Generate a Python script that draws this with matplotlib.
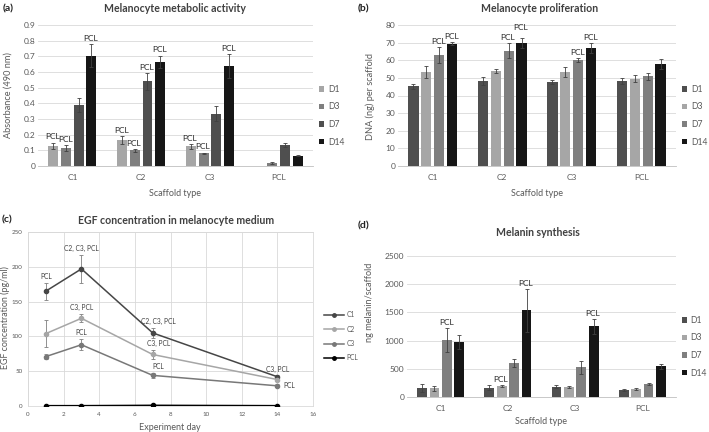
import numpy as np
import matplotlib
matplotlib.use("Agg")
from matplotlib import pyplot as plt
from matplotlib.lines import Line2D

plt.rcParams["font.family"] = ["Lato", "DejaVu Sans"]

W, H = 709, 432

# ---- data ----
groups = ["C1", "C2", "C3", "PCL"]
days = ["D1", "D3", "D7", "D14"]

# (a) metabolic activity, absorbance at 490 nm
a_vals = {
    "D1": [0.13, 0.165, 0.126, np.nan],
    "D3": [0.115, 0.10, 0.081, 0.018],
    "D7": [0.39, 0.54, 0.335, 0.136],
    "D14": [0.705, 0.665, 0.638, 0.067],
}
a_err = {
    "D1": [0.02, 0.025, 0.015, np.nan],
    "D3": [0.02, 0.01, 0.005, 0.006],
    "D7": [0.045, 0.055, 0.047, 0.012],
    "D14": [0.075, 0.04, 0.074, 0.004],
}
a_pcl = [("C1", "D1"), ("C1", "D3"), ("C1", "D14"),
         ("C2", "D1"), ("C2", "D3"), ("C2", "D7"), ("C2", "D14"),
         ("C3", "D1"), ("C3", "D3"), ("C3", "D14")]

# (b) proliferation, DNA ng per scaffold
b_vals = {
    "D1": [45.2, 48.3, 47.8, 48.2],
    "D3": [53.5, 53.9, 53.2, 49.6],
    "D7": [62.9, 65.4, 60.0, 50.9],
    "D14": [69.5, 69.7, 66.8, 57.7],
}
b_err = {
    "D1": [1.3, 2.2, 1.2, 1.8],
    "D3": [3.3, 1.2, 2.7, 1.8],
    "D7": [4.5, 4.4, 1.2, 2.0],
    "D14": [0.8, 2.8, 2.8, 2.8],
}
b_pcl = [("C1", "D7"), ("C1", "D14"), ("C2", "D7"), ("C2", "D14"),
         ("C3", "D7"), ("C3", "D14")]

# (c) EGF concentration over time
c_days = [1, 3, 7, 14]
c_series = ["C1", "C2", "C3", "PCL"]
c_vals = {
    "C1": [165, 197, 105, 42],
    "C2": [104, 126, 74, 38],
    "C3": [71, 88, 44, 29],
    "PCL": [0.5, 0.5, 1.0, 0.5],
}
c_err = {
    "C1": [12, 20, 7, 2],
    "C2": [19, 6, 7, 2],
    "C3": [4, 8, 4, 2],
    "PCL": [0, 0, 0, 0],
}
c_labels = [("C1", 0, "PCL"), ("C1", 1, "C2, C3, PCL"), ("C1", 2, "C2, C3, PCL"),
            ("C2", 1, "C3, PCL"), ("C2", 2, "C3, PCL"),
            ("C3", 1, "PCL"), ("C3", 2, "PCL"), ("C1", 3, "C3, PCL")]

# (d) melanin synthesis
d_vals = {
    "D1": [165, 165, 183, 124],
    "D3": [154, 189, 171, 142],
    "D7": [1016, 603, 526, 230],
    "D14": [969, 1537, 1253, 544],
}
d_err = {
    "D1": [70, 45, 25, 15],
    "D3": [45, 20, 20, 12],
    "D7": [210, 65, 120, 20],
    "D14": [125, 385, 130, 40],
}
d_pcl = [("C1", "D7"), ("C2", "D3"), ("C2", "D14"), ("C3", "D14")]

# ---- styles ----
col_a = {"D1": "#a6a6a6", "D3": "#7f7f7f", "D7": "#4f4f4f", "D14": "#161616"}
col_bd = {"D1": "#4f4f4f", "D3": "#a6a6a6", "D7": "#7f7f7f", "D14": "#161616"}
col_c = {"C1": "#464646", "C2": "#a6a6a6", "C3": "#787878", "PCL": "#000000"}
txt = "#595959"
grid = "#d9d9d9"

fig = plt.figure(figsize=(W / 100, H / 100), dpi=100)


def axes_px(left, top, right, bottom):
    return fig.add_axes([left / W, 1 - bottom / H, (right - left) / W, (bottom - top) / H])


def text_px(x, y, s, **kw):
    fig.text(x / W, 1 - y / H, s, **kw)


def bar_panel(ax, vals, errs, colors, pcl, ymax, ystep, yfmt, fs=6):
    x = np.arange(len(groups))
    step, width = 0.185, 0.145
    for i, d in enumerate(days):
        xs = x + (i - 1.5) * step
        ax.bar(xs, vals[d], width, color=colors[d], label=d, zorder=2)
        ax.errorbar(xs, vals[d], yerr=errs[d], fmt="none", ecolor="#404040",
                    elinewidth=0.6, capsize=1.6, capthick=0.6, zorder=3)
    for g, d, *extra in pcl:
        gi, di = groups.index(g), days.index(d)
        top = vals[d][gi] + errs[d][gi]
        dy = extra[0] if extra else 1.5
        ax.annotate("PCL", (gi + (di - 1.5) * step, top), xytext=(-0.5, dy),
                    textcoords="offset points", ha="center", va="bottom",
                    fontsize=fs, color="#262626")
    ax.set_xlim(-0.5, len(groups) - 0.5)
    ax.set_ylim(0, ymax)
    ax.set_yticks(np.arange(0, ymax + ystep / 2, ystep))
    ax.yaxis.set_major_formatter(yfmt)
    ax.set_xticks(x)
    ax.set_xticklabels(groups)
    ax.tick_params(length=0, labelsize=fs, colors=txt, pad=2)
    ax.tick_params(axis="x", pad=6)
    ax.grid(axis="y", color=grid, linewidth=0.6, zorder=0)
    for s in ["top", "right", "left"]:
        ax.spines[s].set_visible(False)
    ax.spines["bottom"].set_color("#bfbfbf")
    ax.spines["bottom"].set_linewidth(0.6)
    leg = ax.legend(loc="upper left", bbox_to_anchor=(1.01, 0.6), frameon=False,
                    fontsize=6.2, handlelength=0.6, handleheight=0.6, handletextpad=0.4,
                    labelspacing=1.0, borderaxespad=0)
    for t in leg.get_texts():
        t.set_color(txt)


# ---- (a) ----
ax_a = axes_px(38, 25, 313, 166)
bar_panel(ax_a, a_vals, a_err, col_a, a_pcl, 0.9, 0.1,
          lambda v, p: "0" if v == 0 else f"{v:.1f}")
text_px(3, 9, "(a)", fontsize=7.5, fontweight="bold", va="center", color="#222222")
text_px(175, 9, "Melanocyte metabolic activity", fontsize=7.6, fontweight="bold",
        ha="center", va="center", color="#404040")
text_px(8, 95, "Absorbance (490 nm)", fontsize=6.6, rotation=90, ha="center", va="center", color=txt)
text_px(175, 193, "Scaffold type", fontsize=6.5, ha="center", va="center", color=txt)

# ---- (b) ----
ax_b = axes_px(398, 25, 676, 166)
b_pcl_adj = [p if p != ("C2", "D14") else ("C2", "D14", 5) for p in b_pcl]
bar_panel(ax_b, b_vals, b_err, col_bd, b_pcl_adj, 80, 10, lambda v, p: f"{v:.0f}")
text_px(358, 9, "(b)", fontsize=7.5, fontweight="bold", va="center", color="#222222")
text_px(540, 9, "Melanocyte proliferation", fontsize=7.6, fontweight="bold",
        ha="center", va="center", color="#404040")
text_px(370, 96, "DNA (ng) per scaffold", fontsize=6.6, rotation=90, ha="center", va="center", color=txt)
text_px(537, 193, "Scaffold type", fontsize=6.5, ha="center", va="center", color=txt)

# ---- (c) ----
ax_c = axes_px(28, 232, 313, 406)
handles = []
for s in c_series:
    ax_c.errorbar(c_days, c_vals[s], yerr=c_err[s], color=col_c[s], linewidth=1.1,
                  marker="o", markersize=3, ecolor="#7f7f7f", elinewidth=0.6,
                  capsize=1.6, capthick=0.6, zorder=3)
    handles.append(Line2D([], [], color=col_c[s], linewidth=1.1, marker="o", markersize=2.5, label=s))
for s, i, lab in c_labels:
    top = c_vals[s][i] + c_err[s][i]
    dx = 4 if c_days[i] == 7 else 0
    ax_c.annotate(lab, (c_days[i], top), xytext=(dx, 2), textcoords="offset points",
                  ha="center", va="bottom", fontsize=4.8, color="#404040")
ax_c.annotate("PCL", (c_days[3], c_vals["C3"][3]), xytext=(4, 0), textcoords="offset points",
              ha="left", va="center", fontsize=4.8, color="#404040")
ax_c.set_xlim(0, 16)
ax_c.set_ylim(0, 250)
ax_c.set_xticks(range(0, 17, 2))
ax_c.set_yticks(range(0, 251, 50))
ax_c.tick_params(length=0, labelsize=4.5, colors=txt, pad=4)
ax_c.grid(color=grid, linewidth=0.6, zorder=0)
for s in ax_c.spines.values():
    s.set_color(grid)
    s.set_linewidth(0.6)
leg = ax_c.legend(handles=handles, loc="upper left", bbox_to_anchor=(1.03, 0.56), frameon=False,
                  fontsize=4.8, handlelength=3, handletextpad=0.3, labelspacing=1.1, borderaxespad=0)
for t in leg.get_texts():
    t.set_color(txt)
text_px(2, 220, "(c)", fontsize=7.5, fontweight="bold", va="center", color="#222222")
text_px(176, 220, "EGF concentration in melanocyte medium", fontsize=7.6, fontweight="bold",
        ha="center", va="center", color="#404040")
text_px(5, 318, "EGF concentration (pg/ml)", fontsize=6.4, rotation=90, ha="center", va="center", color=txt)
text_px(170, 427, "Experiment day", fontsize=6.5, ha="center", va="center", color=txt)

# ---- (d) ----
ax_d = axes_px(407, 256, 676, 397)
bar_panel(ax_d, d_vals, d_err, col_bd, d_pcl, 2500, 500, lambda v, p: f"{v:.0f}")
text_px(358, 226, "(d)", fontsize=7.5, fontweight="bold", va="center", color="#222222")
text_px(538, 233, "Melanin synthesis", fontsize=7.6, fontweight="bold",
        ha="center", va="center", color="#404040")
text_px(370, 302, "ng melanin/scaffold", fontsize=6.6, rotation=90, ha="center", va="center", color=txt)
text_px(541, 422, "Scaffold type", fontsize=6.5, ha="center", va="center", color=txt)

fig.savefig("out.png", dpi=100)
